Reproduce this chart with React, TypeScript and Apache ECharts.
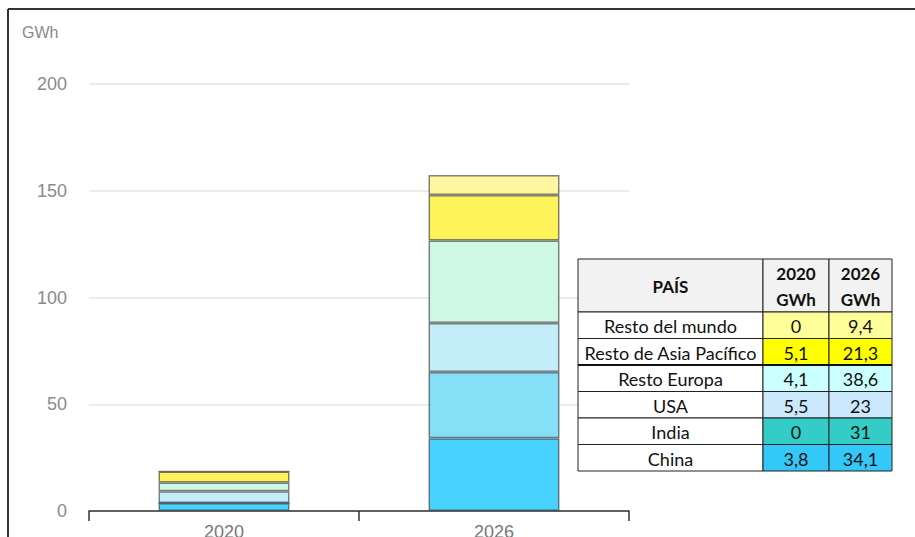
import React, { useEffect, useRef } from "react";
import * as echarts from "echarts";

const categories = ["2020", "2026"];
const countries = ["China", "India", "USA", "Resto Europa", "Resto de Asia Pacífico", "Resto del mundo"];
const values2020 = [3.8, 0, 5.5, 4.1, 5.1, 0];
const values2026 = [34.1, 31, 23, 38.6, 21.3, 9.4];
const yTicks = [0, 50, 100, 150, 200];
const unitLabel = "GWh";
const tableHeader = ["PAÍS", "2020\nGWh", "2026\nGWh"];

const barColors = ["#48D3FF", "#85DFF7", "#C4EDFA", "#CEF8E2", "#FFF35C", "#FFF6A0"];
const cellColors = ["#33C8F7", "#33CCC6", "#CCE8FD", "#CCFFFF", "#FFFF00", "#FFFF99"];

const fmt = (v: number) => String(v).replace(".", ",");

export default function App() {
  const ref = useRef<HTMLDivElement>(null);
  useEffect(() => {
    document.body.style.margin = "0";
    const chart = echarts.init(ref.current!, null, { renderer: "svg" });

    const colX = [578, 763, 829, 892];
    const headTop = 259;
    const headBottom = 312;
    const rowH = 26.5;
    const tableFont = "Lato, 'Noto Sans', sans-serif";
    const g: any[] = [];
    for (let c = 0; c < 3; c++) {
      g.push({
        type: "rect",
        shape: { x: colX[c], y: headTop, width: colX[c + 1] - colX[c], height: headBottom - headTop },
        style: { fill: "#F2F2F2", stroke: "#222", lineWidth: 1 },
        z: 10,
      });
      g.push({
        type: "text",
        x: (colX[c] + colX[c + 1]) / 2,
        y: (headTop + headBottom) / 2 + 1,
        style: {
          text: tableHeader[c],
          fill: "#111",
          font: `bold 17px ${tableFont}`,
          align: "center",
          verticalAlign: "middle",
          lineHeight: 26,
        },
        z: 11,
      });
    }
    const order = countries.map((_, i) => countries.length - 1 - i);
    order.forEach((idx, r) => {
      const y = headBottom + r * rowH;
      const cells = [countries[idx], fmt(values2020[idx]), fmt(values2026[idx])];
      for (let c = 0; c < 3; c++) {
        g.push({
          type: "rect",
          shape: { x: colX[c], y, width: colX[c + 1] - colX[c], height: rowH },
          style: { fill: c === 0 ? "#FFFFFF" : cellColors[idx], stroke: "#222", lineWidth: 1 },
          z: 10,
        });
        g.push({
          type: "text",
          x: (colX[c] + colX[c + 1]) / 2,
          y: y + rowH / 2 + 1,
          style: {
            text: cells[c],
            fill: "#111",
            font: `18px ${tableFont}`,
            align: "center",
            verticalAlign: "middle",
          },
          z: 11,
        });
      }
    });
    g.push({
      type: "line",
      shape: { x1: colX[0], y1: headBottom + 2 * rowH, x2: colX[3], y2: headBottom + 2 * rowH },
      style: { stroke: "#111", lineWidth: 2 },
      z: 12,
    });
    g.push({ type: "line", shape: { x1: 8, y1: 9, x2: 915, y2: 9 }, style: { stroke: "#333", lineWidth: 2 }, z: 20 });
    g.push({ type: "line", shape: { x1: 8, y1: 9, x2: 8, y2: 537 }, style: { stroke: "#333", lineWidth: 2 }, z: 20 });
    g.push({
      type: "text",
      x: 22,
      y: 32,
      style: {
        text: unitLabel,
        fill: "#8a8a8a",
        font: "16px 'Liberation Sans', Arial, sans-serif",
        verticalAlign: "middle",
      },
      z: 5,
    });

    const series = countries.map((name, i) => ({
      name,
      type: "bar",
      stack: "total",
      barWidth: "48.5%",
      data: [values2020[i], values2026[i]],
      itemStyle: {
        color: barColors[i],
        borderColor: "rgba(50,50,50,0.6)",
        borderWidth: 1.5,
      },
    }));

    chart.setOption({
      animation: false,
      grid: { left: 89, right: 286, top: 84, bottom: 26, containLabel: false, outerBoundsMode: "none" },
      xAxis: {
        type: "category",
        data: categories,
        boundaryGap: true,
        axisLine: { lineStyle: { color: "#333", width: 1.5 } },
        axisTick: { show: true, length: 10, alignWithLabel: false, lineStyle: { color: "#333", width: 1.5 } },
        axisLabel: { color: "#777", fontSize: 18, margin: 12, fontFamily: "'Liberation Sans', Arial, sans-serif" },
      },
      yAxis: {
        type: "value",
        min: yTicks[0],
        max: yTicks[yTicks.length - 1],
        interval: 50,
        axisLine: { show: false },
        axisTick: { show: false },
        splitLine: { lineStyle: { color: "#e6e6e6", width: 1.5 } },
        axisLabel: { color: "#8a8a8a", fontSize: 18, margin: 22, fontFamily: "'Liberation Sans', Arial, sans-serif" },
      },
      series,
      graphic: g,
    });
    return () => chart.dispose();
  }, []);
  return <div ref={ref} style={{ width: 915, height: 537 }} />;
}
